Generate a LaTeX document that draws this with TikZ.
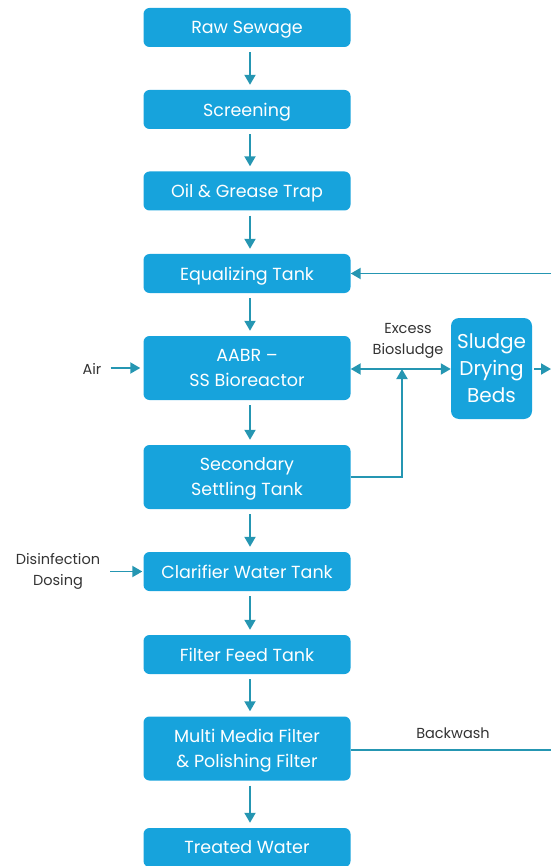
\documentclass[tikz,border=0pt]{standalone}
\usepackage{fontspec}
\setmainfont{Poppins}
\usetikzlibrary{arrows.meta}

\definecolor{boxblue}{HTML}{17A3DC}
\definecolor{flowteal}{HTML}{2596B2}
\definecolor{labelgray}{HTML}{333333}

\tikzset{
  stage/.style={draw=none, fill=boxblue, rounded corners=6pt, text=white,
    minimum width=207pt, minimum height=39pt, inner sep=0pt, align=center,
    text depth=0pt, font=\fontsize{17.5}{25}\selectfont},
  tallstage/.style={stage, minimum height=64pt},
  sidelabel/.style={text=labelgray, align=center, inner sep=0pt,
    font=\fontsize{14.5}{21}\selectfont},
  flow/.style={flowteal, line width=1.9pt, -{Triangle[width=11pt,length=10pt]}},
  plainflow/.style={flowteal, line width=1.9pt},
}

\begin{document}
\begin{tikzpicture}[x=1pt,y=-1pt]
  \useasboundingbox (0,0) rectangle (551,866);
  % main chain
  \node[stage] (raw) at (247,27.5) {Raw Sewage};
  \node[stage] (screen) at (247,109.5) {Screening};
  \node[stage] (oil) at (247,191) {Oil \& Grease Trap};
  \node[stage] (equal) at (247,273.5) {Equalizing Tank};
  \node[tallstage] (aabr) at (247,368) {AABR --\\SS Bioreactor};
  \node[tallstage] (settle) at (247,477) {Secondary\\Settling Tank};
  \node[stage] (clar) at (247,571.5) {Clarifier Water Tank};
  \node[stage] (feed) at (247,654.5) {Filter Feed Tank};
  \node[tallstage] (mmf) at (247,748.5) {Multi Media Filter\\\& Polishing Filter};
  \node[stage] (treated) at (247,847.5) {Treated Water};
  % sludge side
  \node[stage, minimum width=81pt, minimum height=101pt, rounded corners=8pt,
    font=\fontsize{20}{27}\selectfont] (beds) at (491.5,368.5) {Sludge\\Drying\\Beds};
  % labels
  \node[sidelabel] (air) at (92,369) {Air};
  \node[sidelabel] (dose) at (58,571.5) {Disinfection\\Dosing};
  \node[sidelabel] (excess) at (408,341) {Excess\\Biosludge};
  \node[sidelabel] (back) at (453,733) {Backwash};
  \coordinate (junc) at (402,369);
  \coordinate (eqin) at (551,273.5);
  \coordinate (bedout) at (551,369);
  \coordinate (bwout) at (551,750);

  % downward flow
  \foreach \a/\b in {raw/screen, screen/oil, oil/equal, equal/aabr, aabr/settle,
      settle/clar, clar/feed, feed/mmf, mmf/treated}
    \draw[flow, shorten <=5pt, shorten >=5pt]
      ([xshift=3pt]\a.south) -- ([xshift=3pt]\b.north);

  % inputs
  \draw[flow] ([xshift=9pt]air.east |- aabr.west) -- ([xshift=-3pt]aabr.west);
  \draw[flow] ([xshift=10pt]dose.east |- clar.west) -- ([xshift=-1pt]clar.west);

  % sludge
  \draw[plainflow, {Triangle[width=11pt,length=10pt]}-{Triangle[width=11pt,length=10pt]}]
    (aabr.east |- junc) -- (beds.west |- junc);
  \draw[flow] (settle.east) -| (junc);
  \draw[flow] ([xshift=2pt]beds.east |- bedout) -- (bedout);
  \draw[flow] (eqin) -- (equal.east);
  \draw[plainflow] (mmf.east |- bwout) -- (bwout);
\end{tikzpicture}
\end{document}
